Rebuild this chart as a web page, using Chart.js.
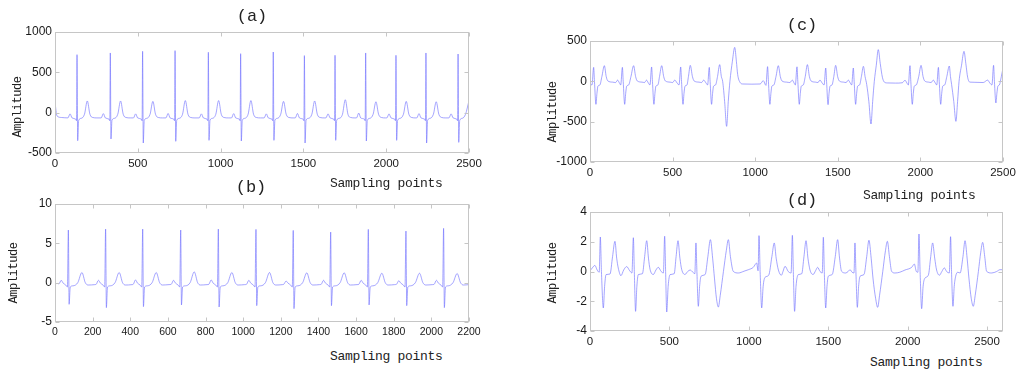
<!DOCTYPE html>
<html><head><meta charset="utf-8">
<script src="https://cdn.jsdelivr.net/npm/chart.js@4.4.1/dist/chart.umd.min.js"></script>
<style>
html,body{margin:0;padding:0;background:#fff;width:1024px;height:375px;overflow:hidden;}
body{position:relative;}
canvas{position:absolute;}
.t{position:absolute;font-family:"Liberation Mono","DejaVu Sans Mono",monospace;color:#222;white-space:nowrap;z-index:2;line-height:1;}
.ttl{font-size:17px;transform:translate(-50%,-50%);}
.xl{font-size:13px;letter-spacing:-0.3px;transform:translateY(-50%);}
.yl{font-size:12px;letter-spacing:-0.4px;transform:translate(-50%,-50%) rotate(-90deg);}
</style></head><body>
<canvas id="ca" width="490" height="168" style="left:0px;top:18px"></canvas>
<canvas id="cb" width="490" height="150" style="left:0px;top:190px"></canvas>
<canvas id="cc" width="489" height="155" style="left:535px;top:27px"></canvas>
<canvas id="cd" width="489" height="155" style="left:535px;top:198px"></canvas>

<div class="t ttl" style="left:252px;top:16px">(a)</div>
<div class="t yl" style="left:18px;top:107px">Amplitude</div>
<div class="t xl" style="left:330px;top:183px">Sampling points</div>

<div class="t ttl" style="left:251px;top:187px">(b)</div>
<div class="t yl" style="left:14px;top:273px">Amplitude</div>
<div class="t xl" style="left:330px;top:356px">Sampling points</div>

<div class="t ttl" style="left:802px;top:25px">(c)</div>
<div class="t yl" style="left:553px;top:112px">Amplitude</div>
<div class="t xl" style="left:863px;top:195px">Sampling points</div>

<div class="t ttl" style="left:802px;top:200px">(d)</div>
<div class="t yl" style="left:553px;top:273px">Amplitude</div>
<div class="t xl" style="left:870px;top:362px">Sampling points</div>

<script>
// ---------- Panel (a) ----------
const aX = [0,12,40,
78,91,103,125,130,133,137,143,158,178,195,211,228,253,
279,292,304,326,331,334,338,344,359,379,396,412,429,454,
474,487,499,521,526,529,533,539,554,574,591,607,624,649,
670,683,695,717,722,725,729,735,750,770,787,803,820,845,
871,884,896,918,923,926,930,936,951,971,988,1004,1021,1046,
1066,1079,1091,1113,1118,1121,1125,1131,1146,1166,1183,1199,1216,1241,
1263,1276,1288,1310,1315,1318,1322,1328,1343,1363,1380,1396,1413,1438,
1451,1464,1476,1498,1503,1506,1510,1516,1531,1551,1568,1584,1601,1626,
1636,1649,1661,1683,1688,1691,1695,1701,1716,1736,1753,1769,1786,1811,
1821,1834,1846,1868,1873,1876,1880,1886,1901,1921,1938,1954,1971,1996,
2004,2017,2029,2051,2056,2059,2063,2069,2084,2104,2121,2137,2154,2179,
2185,2198,2210,2232,2237,2240,2244,2250,2265,2285,2302,2318,2335,2360,
2379,2392,2404,2426,2431,2434,2438,2444,2459,2479,2500];
const aY = [130,-40,-60,
-65,-15,-65,-80,-100,719,-347,-95,-70,-20,145,-20,-60,-65,
-65,-12,-65,-80,-100,740,-326,-95,-70,-20,145,-20,-60,-65,
-65,-15,-65,-80,-100,760,-376,-95,-70,-20,140,-20,-60,-65,
-65,-10,-65,-80,-100,769,-355,-95,-70,-20,150,-20,-60,-65,
-65,-15,-65,-80,-100,748,-343,-95,-70,-20,150,-20,-60,-65,
-65,-12,-65,-80,-100,731,-351,-95,-70,-20,150,-20,-60,-65,
-65,-15,-65,-80,-100,752,-343,-95,-70,-20,140,-20,-60,-65,
-65,-10,-65,-80,-100,707,-376,-95,-70,-20,145,-20,-60,-65,
-65,-15,-65,-80,-100,711,-343,-95,-70,-20,160,-20,-60,-65,
-65,-5,-65,-80,-100,740,-351,-95,-70,-20,135,-20,-60,-65,
-65,-15,-65,-80,-100,711,-343,-95,-70,-20,140,-20,-60,-65,
-65,-12,-65,-80,-100,740,-376,-95,-70,-20,135,-20,-60,-65,
-65,-15,-65,-80,-100,727,-368,-95,-70,-20,150];
const aXTicks = [0,500,1000,1500,2000,2500];
const aYTicks = [-500,0,500,1000];

// ---------- Panel (b) ----------
const bX = [0,12,
21,33,43,57,66,71,75,81,96,121,143,161,176,211,
219,231,241,255,264,269,273,279,294,319,341,359,374,409,
416,428,438,452,461,466,470,476,491,516,538,556,571,606,
618,630,640,654,663,668,672,678,693,718,740,758,773,808,
818,830,840,854,863,868,872,878,893,918,940,958,973,1008,
1018,1030,1040,1054,1063,1068,1072,1078,1093,1118,1140,1158,1173,1208,
1216,1228,1238,1252,1261,1266,1270,1276,1291,1316,1338,1356,1371,1406,
1415,1427,1437,1451,1460,1465,1469,1475,1490,1515,1537,1555,1570,1605,
1615,1627,1637,1651,1660,1665,1669,1675,1690,1715,1737,1755,1770,1805,
1815,1827,1837,1851,1860,1865,1869,1875,1890,1915,1937,1955,1970,2005,
2015,2027,2037,2051,2060,2065,2069,2075,2090,2115,2137,2155,2170,2200];
const bY = [-0.15,-0.1,
-0.15,0.3,-0.05,-0.3,-0.55,6.69,-2.75,-0.55,-0.4,0.0,1.29,0.0,-0.3,-0.25,
-0.2,0.3,-0.05,-0.3,-0.55,6.81,-3.17,-0.55,-0.4,0.0,1.29,0.0,-0.3,-0.25,
-0.2,0.35,-0.05,-0.3,-0.55,6.81,-3.04,-0.55,-0.4,0.0,1.29,0.0,-0.3,-0.25,
-0.2,0.3,-0.05,-0.3,-0.55,6.69,-2.83,-0.55,-0.4,0.0,1.37,0.0,-0.3,-0.25,
-0.2,0.35,-0.05,-0.3,-0.55,6.81,-3.09,-0.55,-0.4,0.0,1.29,0.0,-0.3,-0.25,
-0.2,0.3,-0.05,-0.3,-0.55,6.77,-2.92,-0.55,-0.4,0.0,1.29,0.0,-0.3,-0.25,
-0.2,0.2,-0.05,-0.3,-0.55,6.64,-3.30,-0.55,-0.4,0.0,1.25,0.0,-0.3,-0.25,
-0.2,0.3,-0.05,-0.3,-0.55,6.43,-2.92,-0.55,-0.4,0.0,1.25,0.0,-0.3,-0.25,
-0.2,0.3,-0.05,-0.3,-0.55,6.77,-2.83,-0.55,-0.4,0.0,1.2,0.0,-0.3,-0.25,
-0.2,0.25,-0.05,-0.3,-0.55,6.56,-2.92,-0.55,-0.4,0.0,1.2,0.0,-0.3,-0.25,
-0.2,0.3,-0.05,-0.3,-0.55,6.90,-3.17,-0.55,-0.4,0.0,1.16,0.0,-0.3,-0.25];
const bXTicks = [0,200,400,600,800,1000,1200,1400,1600,1800,2000,2200];
const bYTicks = [-5,0,5,10];

// ---------- Panel (c) ----------
const cX = [0,12,
22,27,36,42,48,60,72,87,98,108,137,155,167,178,186,
196,201,210,216,222,234,248,264,276,286,315,330,342,353,363,
373,378,387,393,399,411,421,434,446,456,485,500,513,527,539,
549,554,563,569,575,587,596,607,620,630,660,675,688,702,712,
722,727,736,742,748,760,772,785,795,803,815,827,837,847,862,876,886,894,908,925,980,1030,1049,1065,
1075,1080,1089,1095,1101,1113,1126,1140,1152,1162,1190,1210,1225,1235,1243,
1253,1258,1267,1273,1279,1291,1303,1316,1328,1338,1365,1380,1392,1405,1417,
1427,1432,1441,1447,1453,1465,1476,1487,1499,1509,1535,1550,1564,1575,1584,
1594,1599,1608,1614,1620,1632,1643,1655,1665,1675,1688,1701,1711,1721,1733,1745,1757,1770,1782,1800,1850,1890,1907,1918,1927,
1937,1942,1951,1957,1963,1975,1990,2004,2016,2026,2050,2065,2078,2090,2099,
2109,2114,2123,2129,2135,2147,2160,2175,2182,2189,2202,2215,2225,2234,2249,2264,2275,2286,2300,2330,2380,2407,2420,2433,
2443,2448,2457,2463,2469,2478,2490,2500];
const cY = [-35,-45,
173,0,-285,-150,-60,-45,60,194,60,5,-10,-15,15,-20,-45,
173,0,-285,-150,-60,-45,60,194,60,5,-10,-15,15,-20,-45,
178,0,-285,-150,-60,-45,60,194,60,5,-10,-15,15,-20,-45,
178,0,-285,-150,-60,-45,60,198,60,5,-10,-15,15,-20,-45,
173,0,-285,-150,-60,-45,60,207,60,0,-250,-558,-250,0,250,421,250,83,-12,-33,-35,-33,8,-50,
182,0,-285,-150,-60,-45,60,194,60,5,-10,-15,15,-20,-45,
180,0,-285,-150,-60,-45,60,207,60,5,-10,-15,15,-20,-45,
165,0,-289,-150,-60,-45,60,198,60,5,-10,-15,15,-20,-45,
165,0,-285,-150,-60,-45,60,186,60,-40,-250,-529,-250,0,200,393,220,50,-10,-20,-22,-18,13,-20,-45,
194,0,-285,-150,-60,-45,60,198,60,5,-10,-15,15,-20,-45,
173,0,-285,-150,-60,-45,60,190,60,-40,-250,-496,-250,0,200,372,220,50,-10,-12,-15,15,-20,-45,
198,0,-268,-150,-60,-45,60,165];
const cXTicks = [0,500,1000,1500,2000,2500];
const cYTicks = [-1000,-500,0,500];

// ---------- Panel (d) ----------
const dX = [0,15,31,45,58,
65,72,84,92,101,126,142,157,168,178,195,212,231,250,264,
273,279,287,295,304,330,344,357,368,378,399,415,430,448,462,
470,476,483,492,504,530,542,554,566,577,598,615,630,648,660,
667,673,682,690,699,725,742,758,772,784,796,808,820,840,858,871,884,902,934,970,997,1028,1049,1058,
1064,1071,1081,1090,1102,1125,1145,1160,1172,1186,1205,1215,1228,1248,1266,
1274,1280,1288,1297,1311,1333,1347,1360,1372,1385,1405,1420,1433,1448,1462,
1469,1475,1484,1492,1500,1525,1544,1559,1571,1584,1610,1625,1637,1650,1662,
1668,1674,1683,1691,1700,1725,1742,1756,1770,1782,1798,1811,1823,1843,1860,1872,1885,1899,1920,1950,1983,2025,2042,2054,2064,
2071,2078,2088,2097,2109,2130,2145,2157,2170,2182,2200,2215,2231,2245,2262,
2270,2276,2285,2293,2302,2315,2330,2348,2361,2374,2386,2400,2413,2425,2445,2460,2472,2485,2497,2529,2560,2581,2600];
const dY = [0.03,0.25,0.41,0.1,-0.05,
2.32,0,-2.45,-1.0,-0.21,-0.17,1.0,2.03,0.9,0.23,-0.28,0.1,0.33,0.05,-0.1,
2.27,0,-2.68,-1.0,-0.21,-0.15,1.0,2.07,0.9,0.15,-0.2,0.1,0.28,0.0,-0.1,
2.37,0,-2.72,-1.0,-0.21,-0.15,1.0,2.07,0.9,0.15,-0.2,0.0,0.1,-0.05,-0.15,
1.92,0,-2.34,-1.0,-0.32,-0.2,1.0,2.14,0.9,-0.5,-1.8,-2.39,-1.6,0.0,1.4,2.14,1.0,0.01,-0.1,0.02,0.12,0.28,0.57,0.05,
2.41,0,-2.45,-1.0,-0.39,-0.25,1.0,1.92,0.9,0.1,-0.25,0.0,0.35,0.0,-0.1,
2.43,0,-2.68,-1.0,-0.21,-0.15,1.0,2.07,0.9,0.1,-0.2,0.05,0.28,0.0,-0.1,
2.30,0,-2.45,-1.0,-0.32,-0.2,1.0,2.14,0.9,0.01,-0.1,0.0,0.12,-0.05,-0.1,
1.92,0,-2.41,-1.0,-0.32,-0.2,1.0,2.10,0.9,-0.5,-1.8,-2.41,-1.6,0.0,1.4,2.03,1.0,0.01,-0.1,-0.05,0.1,0.28,0.5,0.01,-0.05,
2.52,0,-2.50,-1.0,-0.44,-0.25,1.0,1.92,0.9,0.1,-0.25,0.0,0.24,0.0,-0.1,
2.34,0,-2.34,-1.0,-0.32,-0.05,-0.1,1.0,2.07,0.9,-0.5,-1.8,-2.34,-1.6,0.0,1.3,1.96,1.0,0.01,-0.1,0.0,0.12,0.12];
const dXTicks = [0,500,1000,1500,2000,2500];
const dYTicks = [-4,-2,0,2,4];

// ---------- drawing ----------
const LINE = 'rgba(110,110,255,0.62)';
const BOX = '#c6c6c6';
const TICKFONT = '"Liberation Sans", Arial, sans-serif';

const boxPlugin = {
  id: 'matlabBox',
  afterDraw(chart) {
    const {ctx, chartArea: a} = chart;
    const xs = chart.scales.x, ys = chart.scales.y;
    ctx.save();
    ctx.strokeStyle = BOX;
    ctx.lineWidth = 1;
    const L = Math.round(a.left) + 0.5, R = Math.round(a.right) - 0.5;
    const T = Math.round(a.top) + 0.5, B = Math.round(a.bottom) - 0.5;
    ctx.strokeRect(L, T, R - L, B - T);
    ctx.beginPath();
    xs.ticks.forEach(t => {
      const p = Math.round(xs.getPixelForValue(t.value)) + 0.5;
      ctx.moveTo(p, T); ctx.lineTo(p, T + 4);
      ctx.moveTo(p, B); ctx.lineTo(p, B - 4);
    });
    ys.ticks.forEach(t => {
      const p = Math.round(ys.getPixelForValue(t.value)) + 0.5;
      ctx.moveTo(L, p); ctx.lineTo(L + 4, p);
      ctx.moveTo(R, p); ctx.lineTo(R - 4, p);
    });
    ctx.stroke();
    ctx.restore();
  }
};

function build(id, xs, ys, xt, yt, o) {
  const pts = xs.map((x, i) => ({x: x, y: ys[i]}));
  return new Chart(document.getElementById(id), {
    type: 'line',
    data: {datasets: [{data: pts, borderColor: LINE, borderWidth: 1, pointRadius: 0,
      cubicInterpolationMode: 'monotone', fill: false}]},
    options: {
      responsive: false, animation: false, events: [],
      layout: {padding: {top: o.pt, right: o.pr, left: 0, bottom: 0}},
      plugins: {legend: {display: false}, tooltip: {enabled: false}, title: {display: false}},
      scales: {
        x: {type: 'linear', min: xt[0], max: o.xmax,
          grid: {display: false, drawTicks: false}, border: {display: false},
          afterBuildTicks(s) { s.ticks = xt.map(v => ({value: v})); },
          ticks: {autoSkip: false, maxRotation: 0, minRotation: 0,
            padding: o.xpad, color: '#1a1a1a', font: {family: TICKFONT, size: o.xfs},
            callback: v => String(v)},
          afterFit(s) { s.height = o.xh; s.paddingLeft = 0; s.paddingRight = 0; }},
        y: {type: 'linear', min: yt[0], max: yt[yt.length - 1],
          grid: {display: false, drawTicks: false}, border: {display: false},
          afterBuildTicks(s) { s.ticks = yt.map(v => ({value: v})); },
          ticks: {autoSkip: false, padding: 3, color: '#1a1a1a',
            font: {family: TICKFONT, size: 12}, callback: v => String(v)},
          afterFit(s) { s.width = o.yw; s.paddingTop = 0; s.paddingBottom = 0; }}
      }
    },
    plugins: [boxPlugin]
  });
}

build('ca', aX, aY, aXTicks, aYTicks, {xmax: 2500, pt: 14, pr: 21, xh: 33, yw: 55, xfs: 11.5, xpad: 4});
build('cb', bX, bY, bXTicks, bYTicks, {xmax: 2200, pt: 14, pr: 21, xh: 18, yw: 55, xfs: 10.5, xpad: 4});
build('cc', cX, cY, cXTicks, cYTicks, {xmax: 2500, pt: 14, pr: 21, xh: 20, yw: 55, xfs: 11.5, xpad: 4});
build('cd', dX, dY, dXTicks, dYTicks, {xmax: 2600, pt: 14, pr: 21, xh: 22, yw: 55, xfs: 11.5, xpad: 4});
</script>
</body></html>
